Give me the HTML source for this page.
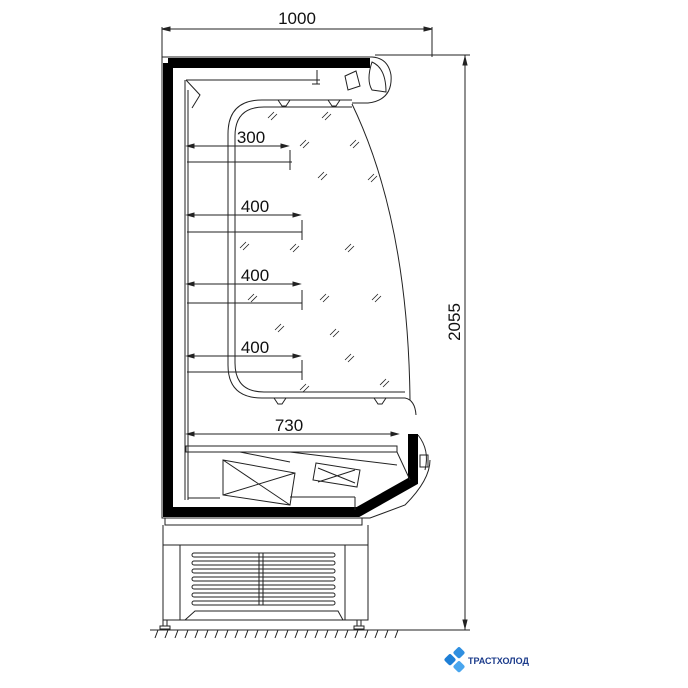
<!DOCTYPE html>
<html><head><meta charset="utf-8"><style>
html,body{margin:0;padding:0;background:#fff;width:688px;height:688px;overflow:hidden}
svg{display:block}
text{font-family:"Liberation Sans",sans-serif;fill:#111}
</style></head><body>
<svg width="688" height="688" viewBox="0 0 688 688" xmlns="http://www.w3.org/2000/svg">
<g stroke="#222" fill="none" stroke-width="1">
<line x1="162" y1="29" x2="432" y2="29"/>
<line x1="162" y1="27" x2="162" y2="57"/>
<line x1="432" y1="27" x2="432" y2="57"/>
<path d="M162 29 l8 -2 v4z M432 29 l-8 -2 v4z" fill="#222"/>
<line x1="375" y1="55" x2="470" y2="55"/>
<line x1="400" y1="630" x2="470" y2="630"/>
<line x1="465" y1="55" x2="465" y2="630"/>
<path d="M465 57 l-2 8 h4z M465 628 l-2 -8 h4z" fill="#222"/>
<path d="M162 57 H372 Q388 58 391 75 Q393 100 368 103 H352"/>
<path d="M162 57 V518 H370 L405 505 Q430 480 430 460"/>
<path d="M168 63 H370 M168 63 V512 H358 L413 481 V434" stroke="#000" stroke-width="10" fill="none"/>
<path d="M372 62 Q386 68 386 92 L372 90 Q366 80 372 62Z"/>
<path d="M345 76 L356 71 L360 86 L348 90Z"/>
<line x1="317" y1="70" x2="317" y2="84"/>
<line x1="312" y1="84" x2="320" y2="84"/>
<line x1="186" y1="80" x2="320" y2="80"/>
<path d="M186 80 L200 95 L192 108"/>
<line x1="185" y1="80" x2="185" y2="500"/>
<line x1="188" y1="90" x2="188" y2="500"/>
<path d="M352 100 H262 Q228 100 228 134 V365 Q228 398 262 398 H405 Q415 400 416 415"/>
<path d="M352 107 H264 Q235 107 235 136 V363 Q235 392 264 392 H405"/>
<path d="M278 100 l4 6 h4 l4 -6z M328 100 l4 6 h4 l4 -6z M274 398 l4 6 h4 l4 -6z M374 398 l4 6 h4 l4 -6z"/>
<path d="M352 104 Q408 220 410 400"/>
<g>
<line x1="187" y1="162" x2="292" y2="162"/><line x1="290" y1="150" x2="290" y2="170"/>
<line x1="187" y1="232" x2="302" y2="232"/><line x1="302" y1="220" x2="302" y2="240"/>
<line x1="187" y1="303" x2="302" y2="303"/><line x1="302" y1="290" x2="302" y2="310"/>
<line x1="187" y1="372" x2="302" y2="372"/><line x1="302" y1="360" x2="302" y2="380"/>
<line x1="187" y1="146" x2="288" y2="146"/>
<line x1="187" y1="215" x2="300" y2="215"/>
<line x1="187" y1="284" x2="300" y2="284"/>
<line x1="187" y1="356" x2="300" y2="356"/>
<line x1="187" y1="434" x2="398" y2="434"/>
<path d="M187 146 l7 -2 v4z M288 146 l-7 -2 v4z M187 215 l7 -2 v4z M300 215 l-7 -2 v4z M187 284 l7 -2 v4z M300 284 l-7 -2 v4z M187 356 l7 -2 v4z M300 356 l-7 -2 v4z M187 434 l7 -2 v4z M398 434 l-7 -2 v4z" fill="#222"/>
<path d="M186 446 H397 V452 H186Z"/>
</g>
<g stroke-width="0.8">
<path d="M268 118 l6 -6 M271 120 l6 -6 M322 118 l6 -6 M325 120 l6 -6 M300 146 l6 -6 M303 148 l6 -6 M350 146 l6 -6 M353 148 l6 -6 M318 178 l6 -6 M321 180 l6 -6 M368 180 l6 -6 M371 182 l6 -6 M240 248 l6 -6 M243 250 l6 -6 M290 250 l6 -6 M293 252 l6 -6 M345 250 l6 -6 M348 252 l6 -6 M248 300 l6 -6 M251 302 l6 -6 M320 300 l6 -6 M323 302 l6 -6 M372 300 l6 -6 M375 302 l6 -6 M275 330 l6 -6 M278 332 l6 -6 M330 335 l6 -6 M333 337 l6 -6 M345 360 l6 -6 M348 362 l6 -6 M380 385 l6 -6 M383 387 l6 -6 M300 390 l6 -6 M303 392 l6 -6"/>
</g>
<path d="M223 460 L295 473 L290 505 L223 495Z M223 460 L290 505 M223 495 L295 473"/>
<path d="M316 463 L360 470 L357 487 L313 480Z M318 468 L355 483 M318 482 L355 470"/>
<path d="M240 452 L290 462 M290 452 L397 465 M397 452 L410 480"/>
<line x1="188" y1="498" x2="220" y2="498"/>
<line x1="290" y1="497" x2="355" y2="497"/><line x1="355" y1="497" x2="355" y2="510"/>
<path d="M418 435 Q430 450 425 470 M420 455 h8 v12 h-8z"/>
<path d="M165 518 V525 H362 V518"/>
<path d="M163 525 V620 H368 V525"/>
<line x1="163" y1="545" x2="368" y2="545"/>
<line x1="180" y1="545" x2="180" y2="620"/>
<line x1="345" y1="545" x2="345" y2="620"/>
<path d="M185 620 L195 611 H338 L343 620"/>
<g>
<rect x="192" y="553" width="143" height="4" rx="2"/>
<rect x="192" y="561" width="143" height="4" rx="2"/>
<rect x="192" y="569" width="143" height="4" rx="2"/>
<rect x="192" y="577" width="143" height="4" rx="2"/>
<rect x="192" y="585" width="143" height="4" rx="2"/>
<rect x="192" y="593" width="143" height="4" rx="2"/>
<rect x="192" y="601" width="143" height="4" rx="2"/>
<line x1="259" y1="553" x2="259" y2="605"/><line x1="263" y1="553" x2="263" y2="605"/>
</g>
<path d="M163 620 h4 v6 h-4z M160 626 h10 v3 h-10z M357 620 h4 v6 h-4z M354 626 h10 v3 h-10z"/>
<line x1="150" y1="630" x2="400" y2="630"/>
<path d="M155 638 l3 -8 M165 638 l3 -8 M175 638 l3 -8 M185 638 l3 -8 M195 638 l3 -8 M205 638 l3 -8 M215 638 l3 -8 M225 638 l3 -8 M235 638 l3 -8 M245 638 l3 -8 M255 638 l3 -8 M265 638 l3 -8 M275 638 l3 -8 M285 638 l3 -8 M295 638 l3 -8 M305 638 l3 -8 M315 638 l3 -8 M325 638 l3 -8 M335 638 l3 -8 M345 638 l3 -8 M355 638 l3 -8 M365 638 l3 -8 M375 638 l3 -8 M385 638 l3 -8 M395 638 l3 -8"/>
</g>
<text x="297" y="24" font-size="17" text-anchor="middle">1000</text>
<text transform="translate(460 322) rotate(-90)" font-size="17" text-anchor="middle">2055</text>
<text x="251" y="143" font-size="17" text-anchor="middle">300</text>
<text x="255" y="212" font-size="17" text-anchor="middle">400</text>
<text x="255" y="281" font-size="17" text-anchor="middle">400</text>
<text x="255" y="353" font-size="17" text-anchor="middle">400</text>
<text x="289" y="431" font-size="17" text-anchor="middle">730</text>
<g>
<rect x="455" y="648" width="9" height="9" rx="2" fill="#2f8fe0" transform="rotate(45 459 652)"/>
<rect x="446" y="655" width="9" height="9" rx="2" fill="#1e7fd6" transform="rotate(45 450 659)"/>
<rect x="455" y="662" width="9" height="9" rx="2" fill="#4aa6ee" transform="rotate(45 459 666)"/>
</g>
<text x="468" y="664" font-size="9" font-weight="bold" style="fill:#1a3a8a">ТРАСТХОЛОД</text>
</svg>
</body></html>
